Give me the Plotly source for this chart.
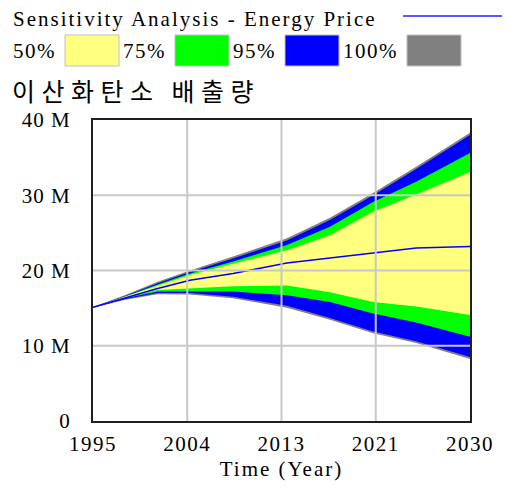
import plotly.graph_objects as go

# ---- data (values in millions) ----
years = [1995, 1998, 2001, 2004, 2008, 2013, 2017, 2021, 2025, 2030]
base_line = [15.1, 16.4, 17.6, 18.7, 19.6, 21.0, 21.7, 22.3, 23.0, 23.2]
p100_hi = [15.15, 16.75, 18.5, 20.0, 21.85, 24.3, 27.0, 30.3, 33.8, 38.3]
p95_hi = [15.1, 16.6, 18.3, 19.8, 21.6, 24.0, 26.7, 30.0, 33.5, 38.0]
p75_hi = [15.1, 16.55, 18.15, 19.6, 21.2, 23.4, 25.8, 29.1, 31.8, 35.6]
p50_hi = [15.1, 16.5, 18.0, 19.4, 20.9, 22.7, 24.7, 27.8, 30.1, 33.1]
p50_lo = [15.1, 16.35, 17.4, 17.6, 17.9, 18.0, 17.1, 15.8, 15.2, 14.1]
p75_lo = [15.1, 16.3, 17.2, 17.2, 17.2, 16.7, 15.8, 14.3, 13.1, 11.2]
p95_lo = [15.1, 16.2, 17.0, 17.0, 16.5, 15.3, 13.7, 11.9, 10.6, 8.5]
p100_lo = [15.05, 16.1, 16.85, 16.8, 16.3, 15.05, 13.45, 11.65, 10.35, 8.25]

x_tickvals = [1995, 2003.75, 2012.5, 2021.25, 2030]
x_ticktext = ["1995", "2004", "2013", "2021", "2030"]
y_tickvals = [0, 10, 20, 30, 40]
y_ticktext = ["0", "10 M", "20 M", "30 M", "40 M"]

legend_labels = ["50%", "75%", "95%", "100%"]
band_colors = ["#ffff80", "#00ff00", "#0000ff", "#808080"]
header_text = "Sensitivity Analysis - Energy Price"
var_title = "이산화탄소 배출량"
x_title = "Time (Year)"

SERIF = "Liberation Serif, Times New Roman, serif"


def spaced(s, sp):
    return '<span style="letter-spacing:%spx">%s</span>' % (sp, s)


fig = go.Figure()

bands = [
    (p100_lo, p100_hi, band_colors[3]),
    (p95_lo, p95_hi, band_colors[2]),
    (p75_lo, p75_hi, band_colors[1]),
    (p50_lo, p50_hi, band_colors[0]),
]
for lo, hi, col in bands:
    fig.add_trace(go.Scatter(x=years, y=lo, mode="lines", line=dict(width=0, color=col),
                             showlegend=False, hoverinfo="skip"))
    fig.add_trace(go.Scatter(x=years, y=hi, mode="lines", line=dict(width=0, color=col),
                             fill="tonexty", fillcolor=col, showlegend=False, hoverinfo="skip"))

fig.add_trace(go.Scatter(x=years, y=base_line, mode="lines",
                         line=dict(color="#0000ff", width=1.5), showlegend=False))

# layout geometry (pixels); page body adds an 8px offset
O = 8
W, H = 502, 481
L, T = 93 - O, 120 - O
R = W - (470 - O)
B = H - (421 - O)
pw, ph = W - L - R, H - T - B


def px(x):
    return (x - O - L) / pw


def py(y):
    return (H - B - (y - O)) / ph


shapes = []
# gridlines above the bands
for v in x_tickvals[1:-1]:
    shapes.append(dict(type="line", xref="x", yref="paper", x0=v, x1=v, y0=0, y1=1,
                       line=dict(color="#c8c8c8", width=2), layer="above"))
for v in y_tickvals[1:-1]:
    shapes.append(dict(type="line", xref="paper", yref="y", x0=0, x1=1, y0=v, y1=v,
                       line=dict(color="#c8c8c8", width=2), layer="above"))

annotations = []
annotations.append(dict(text=spaced(header_text, 2), xref="paper", yref="paper", x=px(11), y=py(19),
                        xanchor="left", yanchor="middle", showarrow=False,
                        font=dict(family=SERIF, size=21, color="black")))
shapes.append(dict(type="line", xref="paper", yref="paper", x0=px(403), x1=px(507),
                   y0=py(16), y1=py(16), line=dict(color="#2020ff", width=1.5)))

label_x = [11, 121, 231, 341]
box_x = [(65, 119), (175, 229), (285, 339), (407, 461)]
for lab, lx, (b0, b1), col in zip(legend_labels, label_x, box_x, band_colors):
    annotations.append(dict(text=spaced(lab, 1.5), xref="paper", yref="paper", x=px(lx), y=py(51),
                            xanchor="left", yanchor="middle", showarrow=False,
                            font=dict(family=SERIF, size=21, color="black")))
    shapes.append(dict(type="rect", xref="paper", yref="paper", x0=px(b0), x1=px(b1),
                       y0=py(35), y1=py(66), fillcolor=col, line=dict(color="#c0c0c0", width=1)))

annotations.append(dict(text=spaced(var_title, 6.5),
                        xref="paper", yref="paper", x=px(10), y=py(90),
                        xanchor="left", yanchor="middle", showarrow=False,
                        font=dict(family="Noto Sans CJK KR", size=25, color="black")))

fig.update_layout(
    width=W, height=H,
    margin=dict(l=L, r=R, t=T, b=B, pad=0),
    paper_bgcolor="white", plot_bgcolor="white",
    shapes=shapes, annotations=annotations,
    xaxis=dict(range=[1995, 2030], tickvals=x_tickvals,
               ticktext=[spaced(t, 1.5) for t in x_ticktext],
               showgrid=False, zeroline=False, showline=True, linecolor="#202020", linewidth=2,
               mirror=True, ticks="", ticklabelstandoff=3, layer="above traces",
               tickfont=dict(family=SERIF, size=21, color="black"),
               title=dict(text=spaced(x_title, 2), font=dict(family=SERIF, size=21, color="black"),
                          standoff=6)),
    yaxis=dict(range=[0, 40], tickvals=y_tickvals,
               ticktext=[spaced(t, 1) for t in y_ticktext],
               showgrid=False, zeroline=False, showline=True, linecolor="#202020", linewidth=2,
               mirror=True, ticks="", ticklabelstandoff=16, layer="above traces",
               tickfont=dict(family=SERIF, size=21, color="black")),
)

fig.write_html("out.html")
